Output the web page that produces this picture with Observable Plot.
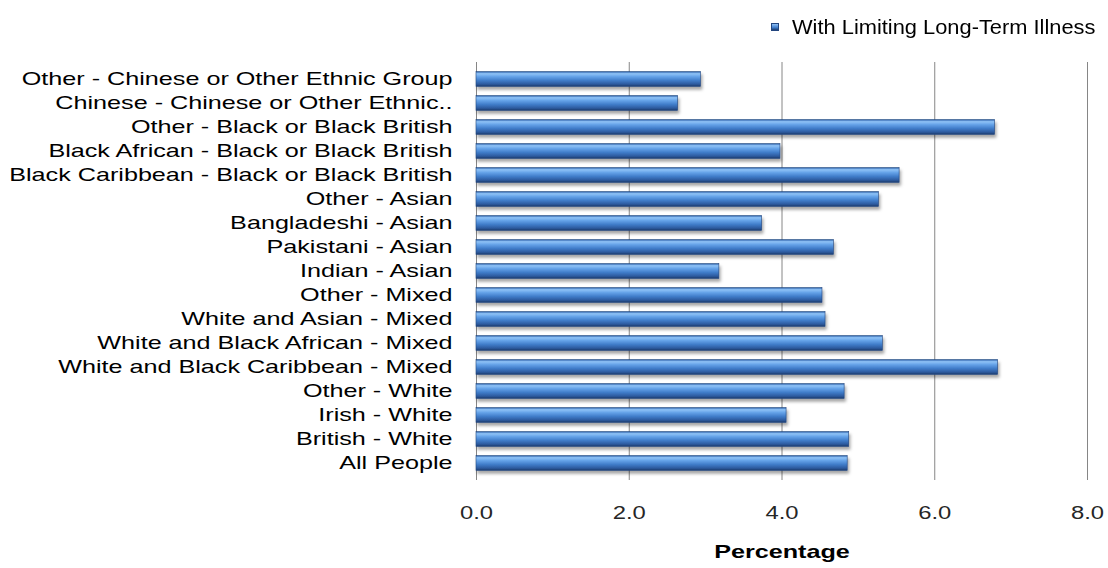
<!DOCTYPE html>
<html>
<head>
<meta charset="utf-8">
<script src="https://cdn.jsdelivr.net/npm/d3@7"></script>
<script src="https://cdn.jsdelivr.net/npm/@observablehq/plot@0.6"></script>
<style>
  html, body { margin: 0; padding: 0; background: #fff; }
  #wrap { position: relative; width: 1108px; height: 568px; font-family: "Liberation Sans", Arial, sans-serif; }
  #legend { position: relative; width: 1108px; height: 48px; }
  #legend .sw { position: absolute; left: 771px; top: 23px; width: 8px; height: 8px; box-sizing: border-box;
    border: 1px solid #23467f; background: linear-gradient(#8fc0f5, #3f7cc9 60%, #1c3a6b); }
  #legend .lbl { position: absolute; left: 792px; top: 17px; font-size: 19.5px; line-height: 20px; color: #000;
    white-space: nowrap; transform-origin: 0 50%; }
  svg { display: block; }
</style>
</head>
<body>
<div id="wrap">
  <div id="legend"><div class="sw"></div><span class="lbl"></span></div>
</div>
<script>
const categories = [
  "Other - Chinese or Other Ethnic Group",
  "Chinese - Chinese or Other Ethnic..",
  "Other - Black or Black British",
  "Black African - Black or Black British",
  "Black Caribbean - Black or Black British",
  "Other - Asian",
  "Bangladeshi - Asian",
  "Pakistani - Asian",
  "Indian - Asian",
  "Other - Mixed",
  "White and Asian - Mixed",
  "White and Black African - Mixed",
  "White and Black Caribbean - Mixed",
  "Other - White",
  "Irish - White",
  "British - White",
  "All People"
];
const values = [2.94, 2.64, 6.79, 3.98, 5.54, 5.27, 3.74, 4.68, 3.18, 4.53, 4.57, 5.32, 6.83, 4.82, 4.06, 4.88, 4.86];
const xTicks = [0, 2, 4, 6, 8];
const seriesName = "With Limiting Long-Term Illness";
const xLabel = "Percentage";

const data = categories.map((c, i) => ({category: c, value: values[i]}));

const plot = Plot.plot({
  width: 1108,
  height: 520,
  marginTop: 14,
  marginBottom: 88,
  marginLeft: 476,
  marginRight: 21,
  style: {fontFamily: "'Liberation Sans', Arial, sans-serif", fontSize: "18.5px", color: "#000", background: "#fff", overflow: "visible"},
  x: {domain: [0, 8]},
  y: {domain: categories, padding: 0},
  marks: [
    Plot.gridX(xTicks, {stroke: "#868686", strokeOpacity: 1, strokeWidth: 1}),
    Plot.barX(data, {x: "value", y: "category", fill: "url(#barGrad)", insetTop: 4.6, insetBottom: 4.6,
      stroke: "#23467f", strokeWidth: 0.6}),
    Plot.axisX({ticks: xTicks, tickSize: 0, tickPadding: 26, tickFormat: d => d.toFixed(1), label: null,
      fill: "#262626", fontSize: "17.5px"}),
    Plot.axisY({tickSize: 0, tickPadding: 24, label: null, fill: "#000"}),
    Plot.text([xLabel], {frameAnchor: "bottom", dy: 77, text: d => d, fontWeight: "bold", fontSize: "18.5px", fill: "#000"})
  ]
});

const svg = d3.select(plot);
const defs = svg.insert("defs", ":first-child");
const g = defs.append("linearGradient").attr("id", "barGrad").attr("x1", 0).attr("y1", 0).attr("x2", 0).attr("y2", 1);
[[0, "#2b5ea8"], [0.14, "#8fc3f7"], [0.34, "#64a2e8"], [0.6, "#3f7cc9"], [0.85, "#2c5a9e"], [1, "#1c3a6b"]]
  .forEach(([o, c]) => g.append("stop").attr("offset", o).attr("stop-color", c));
const f = defs.append("filter").attr("id", "shadow").attr("x", "-5%").attr("y", "-50%").attr("width", "115%").attr("height", "250%");
f.append("feDropShadow").attr("dx", 1.5).attr("dy", 3).attr("stdDeviation", 1.6).attr("flood-color", "#000").attr("flood-opacity", 0.35);
svg.selectAll("rect").filter(function() { return this.getAttribute("fill") === "url(#barGrad)" || (this.parentNode && this.parentNode.getAttribute("fill") === "url(#barGrad)"); })
  .attr("filter", "url(#shadow)");

document.getElementById("wrap").appendChild(plot);

const K = 1.36;
svg.selectAll("text").each(function() {
  const len = this.getComputedTextLength();
  if (len > 0) {
    this.setAttribute("textLength", len * K);
    this.setAttribute("lengthAdjust", "spacingAndGlyphs");
  }
});

const lbl = document.querySelector("#legend .lbl");
lbl.textContent = seriesName;
lbl.style.transform = "scaleX(1.12)";
</script>
</body>
</html>
